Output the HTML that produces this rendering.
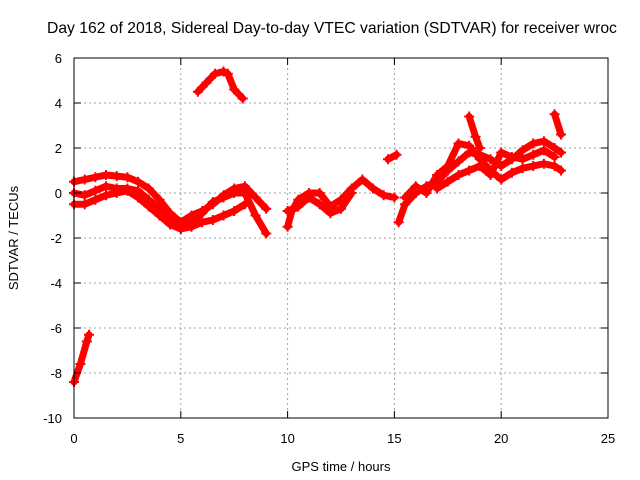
<!DOCTYPE html>
<html><head><meta charset="utf-8"><style>
body{margin:0;background:#fff}
svg{display:block;font-family:"Liberation Sans",sans-serif;font-size:13px}
</style></head><body>
<svg width="640" height="480" viewBox="0 0 640 480">
<rect x="0" y="0" width="640" height="480" fill="#fff"/>
<text x="47" y="33" style="font-size:15.7px">Day 162 of 2018, Sidereal Day-to-day VTEC variation (SDTVAR) for receiver wroc</text>
<g id="grid"></g>
<g id="series"></g>
<rect x="74" y="58" width="534" height="360" fill="none" stroke="#000"/>
<g id="ticks"></g>
<text x="341" y="471" text-anchor="middle">GPS time / hours</text>
<text transform="translate(18,238) rotate(-90)" text-anchor="middle">SDTVAR / TECUs</text>
</svg>
<script>
const xTicks=[0,5,10,15,20,25];
const yTicks=[6,4,2,0,-2,-4,-6,-8,-10];
const trackHigh=[[5.8,4.5],[6.2,4.9],[6.6,5.3],[7.0,5.4],[7.2,5.3],[7.5,4.6],[7.9,4.2]];
const trackLow=[[0,-8.4],[0.3,-7.6],[0.6,-6.6],[0.7,-6.3]];
const track1=[[0,0.5],[0.5,0.6],[1,0.7],[1.5,0.8],[2,0.75],[2.5,0.7],[3,0.5],[3.5,0.2],[4,-0.3],[4.5,-0.9],[5,-1.3],[5.5,-1.0],[6,-0.8],[6.5,-0.5],[7,-0.1],[7.5,0.2],[8,0.3],[8.5,-0.2],[9,-0.7]];
const track2=[[0,0],[0.5,-0.1],[1,0.1],[1.5,0.3],[2,0.2],[2.5,0.2],[3,0.1],[3.5,-0.3],[4,-0.7],[4.5,-1.2],[5,-1.6],[5.5,-1.5],[6,-1.3],[6.5,-1.2],[7,-1.0],[7.5,-0.8],[8,-0.5]];
const track3=[[0,-0.5],[0.5,-0.5],[1,-0.3],[1.5,-0.1],[2,0],[2.5,0.1],[3,-0.2],[3.5,-0.6],[4,-1.0],[4.5,-1.4],[5,-1.6],[5.5,-1.3],[6,-0.9],[6.5,-0.4],[7,-0.2],[7.5,0],[8,0],[8.5,-1.0],[9,-1.8]];
const track4=[[10,-1.5],[10.2,-0.8],[10.5,-0.3],[11,0],[11.5,0],[12,-0.6],[12.5,-0.3],[13,0.2],[13.5,0.6],[14,0.2],[14.5,-0.1],[15,-0.2]];
const track5=[[10,-0.8],[10.5,-0.6],[11,-0.2],[11.5,-0.5],[12,-0.9],[12.5,-0.7],[13,0]];
const track6=[[14.7,1.5],[15.1,1.7]];
const track7=[[15.2,-1.3],[15.5,-0.5],[16,0],[16.5,0.3],[17,0.5],[17.5,1.0],[18,1.4],[18.5,1.8],[19,1.7],[19.5,1.5],[20,1.2],[20.5,1.5],[21,1.9],[21.5,2.2],[22,2.3],[22.5,2.0],[22.8,1.8]];
const track8=[[15.5,-0.2],[16,0.3],[16.5,0],[17,0.8],[17.5,1.2],[18,2.2],[18.5,2.1],[19,1.5],[19.5,1.0],[20,0.6],[20.5,0.9],[21,1.1],[21.5,1.2],[22,1.3],[22.5,1.2],[22.8,1.0]];
const track9=[[17,0.2],[17.5,0.5],[18,0.8],[18.5,1.0],[19,1.2],[19.5,0.8],[20,1.8],[20.5,1.6],[21,1.5],[21.5,1.7],[22,1.9],[22.5,1.6]];
const track10=[[18.5,3.4],[18.8,2.5],[19,2.0]];
const track11=[[22.5,3.5],[22.8,2.6]];
const tracks=[trackHigh,trackLow,track1,track2,track3,track4,track5,track6,track7,track8,track9,track10,track11];
const NS="http://www.w3.org/2000/svg";
const X=t=>74+t*534/25, Y=v=>193-v*22.5;
const grid=document.getElementById('grid'),ticks=document.getElementById('ticks'),ser=document.getElementById('series');
function mk(tag,attrs,parent){const e=document.createElementNS(NS,tag);for(const k in attrs)e.setAttribute(k,attrs[k]);parent.appendChild(e);return e;}
xTicks.forEach(t=>{
 if(t>0&&t<25){const g=mk('line',{x1:X(t),x2:X(t),y1:58,y2:418,stroke:'#a0a0a0','stroke-dasharray':'2,3'},grid);
 
 }
 mk('line',{x1:X(t),x2:X(t),y1:418,y2:411,stroke:'#000'},ticks);
 mk('line',{x1:X(t),x2:X(t),y1:58,y2:65,stroke:'#000'},ticks);
 const l=mk('text',{x:X(t),y:443,'text-anchor':'middle'},ticks);l.textContent=t;
 
 
});
yTicks.forEach(v=>{
 if(v<6&&v>-10){const g=mk('line',{x1:74,x2:608,y1:Y(v),y2:Y(v),stroke:'#a0a0a0','stroke-dasharray':'2,3'},grid);
 
 }
 mk('line',{x1:74,x2:81,y1:Y(v),y2:Y(v),stroke:'#000'},ticks);
 mk('line',{x1:601,x2:608,y1:Y(v),y2:Y(v),stroke:'#000'},ticks);
 const l=mk('text',{x:62,y:Y(v)+5,'text-anchor':'end'},ticks);l.textContent=v;
 
 
});
tracks.forEach(tr=>{
 const p=mk('polyline',{points:tr.map(d=>X(d[0])+','+Y(d[1])).join(' '),fill:'none',stroke:'#f00','stroke-width':7,'stroke-linejoin':'round','stroke-linecap':'round'},ser);
 
 
 tr.forEach(d=>{
  const m=mk('path',{d:`M${X(d[0])-5},${Y(d[1])}h10M${X(d[0])},${Y(d[1])-5}v10`,stroke:'#f00','stroke-width':2},ser);
  
  
 });
});
</script>
</body></html>
